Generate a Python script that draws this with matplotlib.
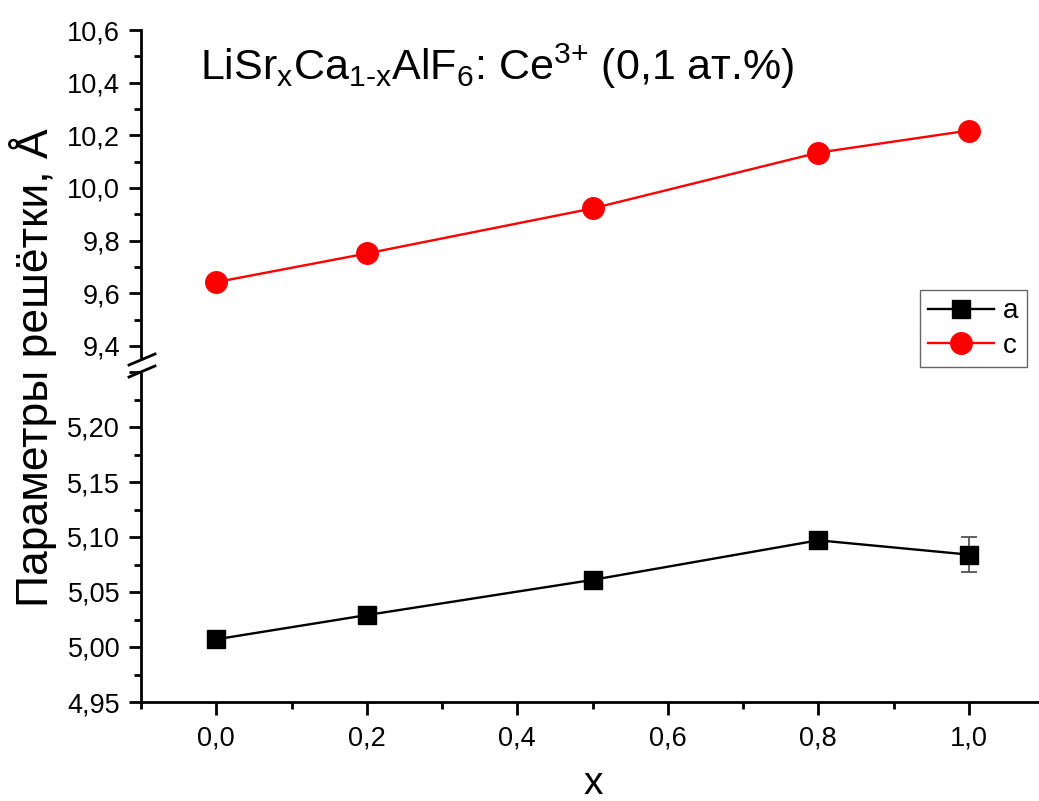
import numpy as np
import matplotlib
matplotlib.use('Agg')
import matplotlib.pyplot as plt
from matplotlib.ticker import MultipleLocator, FuncFormatter
from matplotlib.lines import Line2D

plt.rcParams['font.family'] = ['Liberation Sans', 'DejaVu Sans']
plt.rcParams['mathtext.fontset'] = 'custom'
plt.rcParams['mathtext.rm'] = 'Liberation Sans'
plt.rcParams['mathtext.it'] = 'Liberation Sans'

# data
x = [0.0, 0.2, 0.5, 0.8, 1.0]
a_vals = [5.007, 5.029, 5.061, 5.097, 5.084]
a_err = [0, 0, 0, 0, 0.016]
c_vals = [9.642, 9.751, 9.922, 10.134, 10.218]

W, H = 1039, 801
fig = plt.figure(figsize=(W / 100, H / 100), dpi=100)

left = 141 / W
width = (1044 - 141) / W
ax_lo = fig.add_axes([left, (H - 702) / H, width, (702 - 372) / H])
ax_hi = fig.add_axes([left, (H - 359) / H, width, (359 - 30) / H])

lw = 2.0
for ax in (ax_lo, ax_hi):
    ax.spines['top'].set_visible(False)
    ax.spines['right'].set_visible(False)
    ax.spines['left'].set_linewidth(lw)
    ax.spines['bottom'].set_linewidth(lw)
    ax.set_xlim(-0.1, 1.1)
    ax.tick_params(which='major', direction='out', length=9, width=lw, labelsize=19.5, pad=6)
    ax.tick_params(which='minor', direction='out', length=5, width=lw)
    ax.xaxis.set_major_locator(MultipleLocator(0.2))
    ax.xaxis.set_minor_locator(MultipleLocator(0.1))
    ax.set_facecolor('none')

ax_hi.spines['bottom'].set_visible(False)
ax_hi.tick_params(axis='x', which='both', bottom=False, labelbottom=False)

ax_lo.set_ylim(4.95, 5.25)
ax_lo.yaxis.set_major_locator(MultipleLocator(0.05))
ax_lo.yaxis.set_minor_locator(MultipleLocator(0.025))
ax_lo.yaxis.set_major_formatter(FuncFormatter(lambda v, p: ('%.2f' % v).replace('.', ',') if v < 5.22 else ''))
ax_lo.xaxis.set_major_formatter(FuncFormatter(lambda v, p: ('%.1f' % v).replace('.', ',')))
ax_lo.tick_params(axis='x', pad=8)

ax_hi.set_ylim(9.35, 10.6)
ax_hi.yaxis.set_major_locator(MultipleLocator(0.2))
ax_hi.yaxis.set_minor_locator(MultipleLocator(0.1))
ax_hi.yaxis.set_major_formatter(FuncFormatter(lambda v, p: ('%.1f' % v).replace('.', ',')))

# series
la, = ax_lo.plot(x, a_vals, '-', color='black', lw=1.7, marker='s', ms=13.5, mfc='black', mec='black', label='a', zorder=3)
ax_lo.errorbar(x, a_vals, yerr=a_err, fmt='none', ecolor='#555555', elinewidth=1.3, capsize=6, capthick=1.3, zorder=2)
lc, = ax_hi.plot(x, c_vals, '-', color='red', lw=1.7, marker='o', ms=15.5, mfc='red', mec='red', label='c', zorder=3)

# break marks on left spine
for yb in (360, 372):
    fig.add_artist(Line2D([129 / W, 155 / W], [(H - yb - 5) / H, (H - yb + 6) / H],
                          color='black', lw=lw))

fig.legend(handles=[la, lc], loc='upper right', bbox_to_anchor=(1027 / W, 1 - 290 / H),
           bbox_transform=fig.transFigure, fontsize=20, frameon=True, fancybox=False,
           edgecolor='#666666', framealpha=1, handlelength=2.35, handletextpad=0.35,
           borderpad=0.3, labelspacing=0.3, borderaxespad=0)

fig.text(200 / W, 1 - 80 / H,
         r'LiSr$_\mathregular{x}$Ca$_\mathregular{1‐x}$AlF$_\mathregular{6}$: Ce$^\mathregular{3{+}}$ (0,1 ат.%)',
         fontsize=31, ha='left', va='baseline')
fig.text(33 / W, 1 - 368 / H, 'Параметры решётки, Å', rotation=90, fontsize=32,
         ha='center', va='center')
fig.text(593 / W, 1 - 794 / H, 'x', fontsize=28, ha='center', va='baseline')

fig.savefig('out.png', dpi=100)
